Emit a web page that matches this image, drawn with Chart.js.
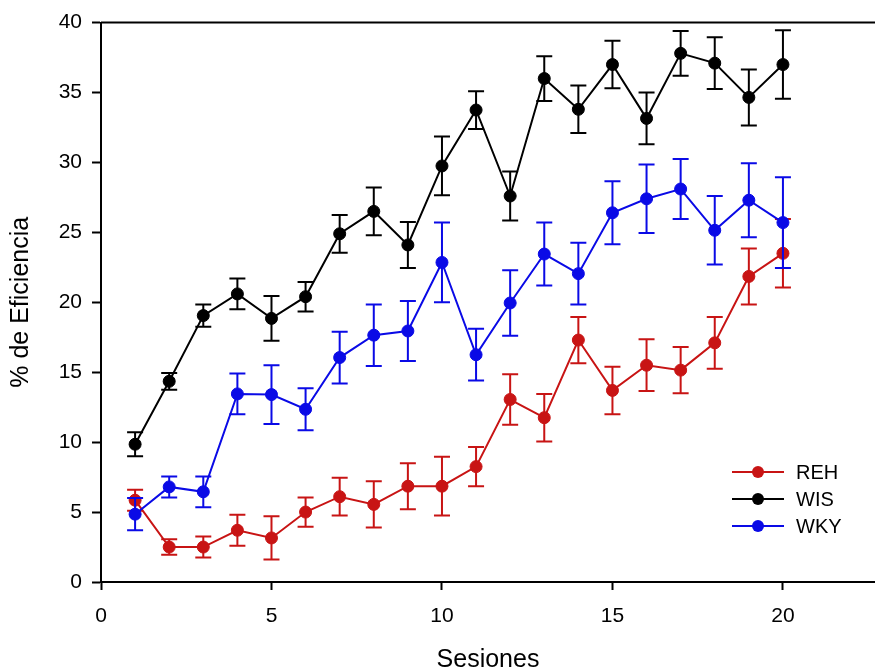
<!DOCTYPE html>
<html>
<head>
    <meta charset="UTF-8">
    <title>% de Eficiencia por sesión</title>
    <script src="https://cdn.jsdelivr.net/npm/chart.js"></script>
    <style>
        html, body {
            margin: 0;
            padding: 0;
            background: #fff;
        }
        #wrap {
            width: 875px;
            height: 671px;
        }
    </style>
</head>
<body>
    <div id="wrap"><canvas id="effChart"></canvas></div>

    <script>
        // sesiones 1..20
        const sessions = [1, 2, 3, 4, 5, 6, 7, 8, 9, 10, 11, 12, 13, 14, 15, 16, 17, 18, 19, 20];

        const reh    = [5.85, 2.5, 2.5, 3.7, 3.15, 5.0, 6.1, 5.55, 6.85, 6.85, 8.25, 13.05, 11.75, 17.3, 13.7, 15.5, 15.15, 17.1, 21.85, 23.5];
        const rehErr = [0.75, 0.55, 0.75, 1.1, 1.55, 1.05, 1.35, 1.65, 1.65, 2.1, 1.4, 1.8, 1.7, 1.65, 1.7, 1.85, 1.65, 1.85, 2.0, 2.45];

        const wis    = [9.85, 14.35, 19.05, 20.6, 18.85, 20.4, 24.9, 26.5, 24.1, 29.75, 33.75, 27.6, 36.0, 33.8, 37.0, 33.15, 37.8, 37.1, 34.65, 37.0];
        const wisErr = [0.85, 0.6, 0.8, 1.1, 1.6, 1.05, 1.35, 1.7, 1.65, 2.1, 1.35, 1.75, 1.6, 1.7, 1.7, 1.85, 1.6, 1.85, 2.0, 2.45];

        const wky    = [4.85, 6.8, 6.45, 13.45, 13.4, 12.35, 16.05, 17.65, 17.95, 22.85, 16.25, 19.95, 23.45, 22.05, 26.4, 27.4, 28.1, 25.15, 27.3, 25.7];
        const wkyErr = [1.15, 0.75, 1.1, 1.45, 2.1, 1.5, 1.85, 2.2, 2.15, 2.85, 1.85, 2.35, 2.25, 2.2, 2.25, 2.45, 2.15, 2.45, 2.65, 3.25];

        const xMax = 22.7;
        const yMax = 40;

        const FONT = "'Liberation Sans', Arial, sans-serif";

        function series(label, values, errors, color, order) {
            return {
                label: label,
                data: values.map((v, i) => ({ x: sessions[i], y: v })),
                errors: errors,
                borderColor: color,
                backgroundColor: color,
                pointBackgroundColor: color,
                pointBorderColor: color,
                pointRadius: 6,
                pointBorderWidth: 1,
                borderWidth: 2,
                tension: 0,
                order: order
            };
        }

        // vertical error bars with caps, drawn just under each series
        const errorBars = {
            id: 'errorBars',
            beforeDatasetDraw(chart, args) {
                const ds = chart.data.datasets[args.index];
                if (!ds.errors) return;
                const { ctx } = chart;
                const xs = chart.scales.x, ys = chart.scales.y;
                const cap = 8;
                ctx.save();
                ctx.strokeStyle = ds.borderColor;
                ctx.lineWidth = 2;
                ds.data.forEach((p, i) => {
                    const e = ds.errors[i];
                    const px = xs.getPixelForValue(p.x);
                    const top = ys.getPixelForValue(p.y + e);
                    const bot = ys.getPixelForValue(p.y - e);
                    ctx.beginPath();
                    ctx.moveTo(px, top);
                    ctx.lineTo(px, bot);
                    ctx.moveTo(px - cap, top);
                    ctx.lineTo(px + cap, top);
                    ctx.moveTo(px - cap, bot);
                    ctx.lineTo(px + cap, bot);
                    ctx.stroke();
                });
                ctx.restore();
            }
        };

        // top frame line + legend box in the lower right corner
        const frameAndLegend = {
            id: 'frameAndLegend',
            afterDatasetsDraw(chart) {
                const { ctx, chartArea } = chart;
                ctx.save();
                ctx.strokeStyle = '#000';
                ctx.lineWidth = 2;
                ctx.beginPath();
                ctx.moveTo(chartArea.left, chartArea.top);
                ctx.lineTo(chartArea.right, chartArea.top);
                ctx.stroke();

                const lx = chartArea.right - 143;
                let ly = chartArea.bottom - 110;
                ctx.font = '20px ' + FONT;
                ctx.textBaseline = 'middle';
                ctx.textAlign = 'left';
                chart.data.datasets.forEach(ds => {
                    ctx.strokeStyle = ds.borderColor;
                    ctx.fillStyle = ds.borderColor;
                    ctx.lineWidth = 2;
                    ctx.beginPath();
                    ctx.moveTo(lx, ly);
                    ctx.lineTo(lx + 52, ly);
                    ctx.stroke();
                    ctx.beginPath();
                    ctx.arc(lx + 26, ly, 6, 0, Math.PI * 2);
                    ctx.fill();
                    ctx.fillStyle = '#000';
                    ctx.fillText(ds.label, lx + 64, ly + 1);
                    ly += 27;
                });
                ctx.restore();
            }
        };

        const ctx = document.getElementById('effChart').getContext('2d');
        const effChart = new Chart(ctx, {
            type: 'line',
            data: {
                datasets: [
                    series('REH', reh, rehErr, '#c81414', 3),
                    series('WIS', wis, wisErr, '#000000', 2),
                    series('WKY', wky, wkyErr, '#0a0ae6', 1)
                ]
            },
            options: {
                responsive: true,
                maintainAspectRatio: false,
                animation: false,
                layout: {
                    autoPadding: false,
                    padding: { top: 21, right: 0, bottom: 0, left: 0 }
                },
                plugins: {
                    legend: { display: false },
                    tooltip: { enabled: false }
                },
                scales: {
                    x: {
                        type: 'linear',
                        min: 0,
                        max: xMax,
                        afterFit: s => { s.height = 89; },
                        ticks: {
                            stepSize: 5,
                            includeBounds: false,
                            color: '#000',
                            padding: 14,
                            font: { family: FONT, size: 21 }
                        },
                        grid: {
                            drawOnChartArea: false,
                            tickLength: 8,
                            tickWidth: 2,
                            tickColor: '#000'
                        },
                        border: { color: '#000', width: 2 },
                        title: {
                            display: true,
                            text: 'Sesiones',
                            color: '#000',
                            padding: { top: 0, bottom: 0 },
                            font: { family: FONT, size: 25, lineHeight: 0.9 }
                        }
                    },
                    y: {
                        min: 0,
                        max: yMax,
                        afterFit: s => { s.width = 101; },
                        ticks: {
                            stepSize: 5,
                            color: '#000',
                            padding: 10,
                            font: { family: FONT, size: 21 }
                        },
                        grid: {
                            drawOnChartArea: false,
                            tickLength: 9,
                            tickWidth: 2,
                            tickColor: '#000'
                        },
                        border: { color: '#000', width: 2 },
                        title: {
                            display: true,
                            text: '% de Eficiencia',
                            color: '#000',
                            padding: { top: 9, bottom: 0 },
                            font: { family: FONT, size: 25, lineHeight: 1 }
                        }
                    }
                }
            },
            plugins: [errorBars, frameAndLegend]
        });
    </script>
</body>
</html>
